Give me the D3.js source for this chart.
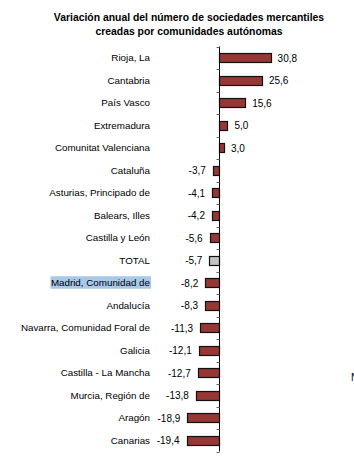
<!DOCTYPE html>
<html>
<head>
<meta charset="utf-8">
<script src="https://cdn.jsdelivr.net/npm/d3@7"></script>
<style>
  body { margin: 0; background: #fff; }
  text { font-family: "Liberation Sans", Arial, sans-serif; fill: #000; }
</style>
</head>
<body>
<svg id="chart"></svg>
<script>
// Data
const regions = [
  "Rioja, La", "Cantabria", "País Vasco", "Extremadura", "Comunitat Valenciana",
  "Cataluña", "Asturias, Principado de", "Balears, Illes", "Castilla y León", "TOTAL",
  "Madrid, Comunidad de", "Andalucía", "Navarra, Comunidad Foral de", "Galicia",
  "Castilla - La Mancha", "Murcia, Región de", "Aragón", "Canarias"
];
const variation = [30.8, 25.6, 15.6, 5.0, 3.0, -3.7, -4.1, -4.2, -5.6, -5.7,
  -8.2, -8.3, -11.3, -12.1, -12.7, -13.8, -18.9, -19.4];
const titleLines = [
  "Variación anual del número de sociedades mercantiles",
  "creadas por comunidades autónomas"
];

const width = 354, height = 461;
const barFill = "#953735", totalFill = "#c3c3c3";

const svg = d3.select("#chart").attr("width", width).attr("height", height);

// title
svg.append("g")
  .selectAll("text")
  .data(titleLines)
  .join("text")
  .attr("x", 189)
  .attr("y", (d, i) => 20.5 + i * 14)
  .attr("text-anchor", "middle")
  .style("font-size", "10.4px")
  .style("font-weight", "bold")
  .text(d => d);

const data = regions.map((r, i) => ({ region: r, value: variation[i] }));

// scales: zero at ~219px, ~1.675px per point
const x = d3.scaleLinear().domain([-20, 35]).range([219 - 20 * 1.675, 219 + 35 * 1.675]);
const y = d3.scaleBand()
  .domain(regions)
  .range([46.5, 451.5])
  .paddingInner(0.58)
  .paddingOuter(0.29);

const step = y.step();
const plotTop = y.range()[0];

// selection highlight behind Madrid label (as in the screenshot)
svg.append("rect")
  .attr("x", 50.5)
  .attr("y", y("Madrid, Comunidad de") + y.bandwidth() / 2 - 6.5)
  .attr("width", 100.5)
  .attr("height", 12.5)
  .attr("fill", "#a8c8ea");

// category labels
svg.append("g")
  .selectAll("text")
  .data(data)
  .join("text")
  .attr("x", 150)
  .attr("y", d => y(d.region) + y.bandwidth() / 2)
  .attr("dy", "0.35em")
  .attr("text-anchor", "end")
  .style("font-size", "9.8px")
  .text(d => d.region);

// bars
svg.append("g")
  .selectAll("rect")
  .data(data)
  .join("rect")
  .attr("x", d => Math.round(x(Math.min(0, d.value))) + 0.5)
  .attr("y", d => Math.round(y(d.region)) + 0.5)
  .attr("width", d => Math.abs(Math.round(x(d.value)) - Math.round(x(0))))
  .attr("height", Math.round(y.bandwidth()))
  .attr("fill", d => d.region === "TOTAL" ? totalFill : barFill)
  .attr("stroke", "#111")
  .attr("stroke-width", 1.2);

// value labels
svg.append("g")
  .selectAll("text")
  .data(data)
  .join("text")
  .attr("x", d => d.value >= 0 ? x(d.value) + 7 : x(d.value) - 7)
  .attr("y", d => y(d.region) + y.bandwidth() / 2)
  .attr("dy", "0.4em")
  .attr("text-anchor", d => d.value >= 0 ? "start" : "end")
  .style("font-size", "10px")
  .text(d => d3.format(".1f")(d.value).replace(".", ",").replace("−", "-"));

// vertical axis at zero, ticks between categories
const x0 = Math.round(x(0)) + 0.5;
svg.append("line")
  .attr("x1", x0).attr("x2", x0)
  .attr("y1", plotTop).attr("y2", plotTop + step * regions.length)
  .attr("stroke", "#000")
  .attr("stroke-width", 1);

svg.append("g")
  .selectAll("line")
  .data(d3.range(regions.length + 1))
  .join("line")
  .attr("x1", x0 - 3).attr("x2", x0)
  .attr("y1", i => Math.round(plotTop + i * step) + 0.5)
  .attr("y2", i => Math.round(plotTop + i * step) + 0.5)
  .attr("stroke", "#666")
  .attr("stroke-width", 1);

// text cut off at the right edge, as in the reference
svg.append("text")
  .attr("x", 351)
  .attr("y", 381)
  .style("font-size", "10px")
  .text("N");
</script>
</body>
</html>
